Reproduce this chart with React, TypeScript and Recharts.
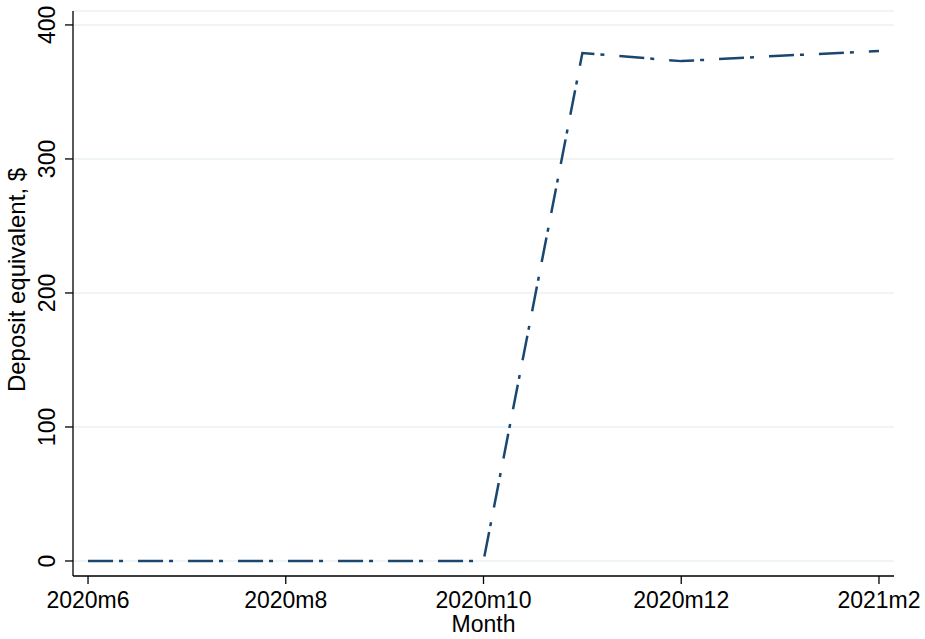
import { LineChart, Line, XAxis, YAxis, CartesianGrid } from 'recharts';

// months shown on the x axis (index 0 = 2020m6)
const months = ['2020m6', '2020m7', '2020m8', '2020m9', '2020m10', '2020m11', '2020m12', '2021m1', '2021m2'];
const deposits = [0, 0, 0, 0, 0, 379, 373, 377, 380.5];
const xTicks = [0, 2, 4, 6, 8];
const yTicks = [0, 100, 200, 300, 400];

const data = months.map((m, i) => ({ idx: i, month: m, deposit: deposits[i] }));

const FONT = '"Liberation Sans", Arial, Helvetica, sans-serif';

const XTick = ({ x, payload }: any) => (
  <text x={x} y={608} textAnchor="middle" fontSize={23} fontFamily={FONT} fill="#000">
    {months[payload.value]}
  </text>
);

const YTick = ({ y, payload }: any) => (
  <text
    x={55}
    y={y}
    transform={`rotate(-90, 55, ${y})`}
    textAnchor="middle"
    fontSize={23}
    fontFamily={FONT}
    fill="#000"
  >
    {payload.value}
  </text>
);

const App = () => {
  return (
    <div style={{ position: 'absolute', left: 0, top: 0 }}>
      <LineChart width={925} height={639} data={data} margin={{ top: 11, right: 31, bottom: 0, left: 0 }}>
        <CartesianGrid vertical={false} stroke="#eaf2f3" strokeWidth={1.5} />
        <XAxis
          dataKey="idx"
          type="number"
          domain={[-0.152, 8.152]}
          ticks={xTicks}
          allowDataOverflow
          height={63}
          stroke="#000"
          strokeWidth={1.3}
          tickSize={8}
          tick={<XTick />}
          label={{
            content: ({ viewBox }: any) => (
              <text
                x={viewBox.x + viewBox.width / 2}
                y={632}
                textAnchor="middle"
                fontSize={23}
                fontFamily={FONT}
                fill="#000"
              >
                Month
              </text>
            ),
          }}
        />
        <YAxis
          type="number"
          domain={[-11.2, 410.4]}
          ticks={yTicks}
          allowDataOverflow
          width={73}
          stroke="#000"
          strokeWidth={1.3}
          tickSize={8}
          tick={<YTick />}
          label={{
            content: () => (
              <text
                x={25}
                y={280}
                transform="rotate(-90, 25, 280)"
                textAnchor="middle"
                fontSize={24}
                fontFamily={FONT}
                fill="#000"
              >
                Deposit equivalent, $
              </text>
            ),
          }}
        />
        <Line
          type="linear"
          dataKey="deposit"
          stroke="#1a476f"
          strokeWidth={2.5}
          strokeDasharray="25 6 4 15"
          dot={false}
          isAnimationActive={false}
        />
      </LineChart>
    </div>
  );
};

export default App;
